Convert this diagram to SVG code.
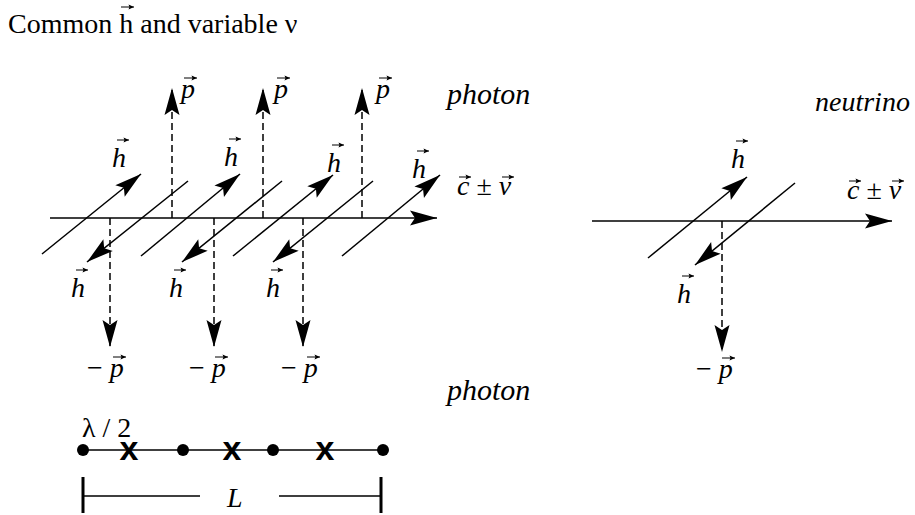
<svg xmlns="http://www.w3.org/2000/svg" width="915" height="515" viewBox="0 0 915 515">
<defs>
<marker id="ah" markerUnits="userSpaceOnUse" markerWidth="40" markerHeight="20" viewBox="-30 -10 40 20" refX="0" refY="0" orient="auto" overflow="visible">
<path d="M0,0 L-27,-7.5 L-22,0 L-27,7.5 Z" fill="#000"/>
</marker>
<marker id="sa" markerUnits="userSpaceOnUse" markerWidth="10" markerHeight="10" viewBox="-8 -5 10 10" refX="0" refY="0" orient="auto" overflow="visible">
<path d="M0,0 L-5.5,-2.4 L-4.5,0 L-5.5,2.4 Z" fill="#000"/>
</marker>
<style>
text{font-family:"Liberation Serif","Times New Roman",serif;fill:#000}
.t{font-size:28px}
.i{font-size:28px;font-style:italic}
.w{font-size:30px;font-style:italic}
.ln{stroke:#000;stroke-width:1.5;fill:none}
.ax{stroke:#000;stroke-width:1.7;fill:none}
.da{stroke:#000;stroke-width:1.5;fill:none;stroke-dasharray:7 4}
.arr{marker-end:url(#ah)}
.vec{stroke:#000;stroke-width:1;fill:none;marker-end:url(#sa)}
.dot{fill:#000}
.xm{font-family:"Liberation Sans",Arial,sans-serif;font-size:34px;font-weight:bold}
</style>
</defs>
<rect width="915" height="515" fill="#fff"/>
<g id="title"><text class="t" x="8" y="33">Common h and variable ν</text></g>

<g id="connectors">
<!-- photon -->
<path class="ax arr" d="M50,218 H437"/>
<path class="ln arr" d="M42,254 L141,174"/>
<path class="ln arr" d="M141,256 L240,174"/>
<path class="ln arr" d="M233,256 L333,175"/>
<path class="ln arr" d="M342,256 L440,175"/>
<path class="ln arr" d="M188,181 L87,262"/>
<path class="ln arr" d="M282,181 L182,262"/>
<path class="ln arr" d="M373,181 L273,262"/>
<path class="da arr" d="M172,218 V88"/>
<path class="da arr" d="M263,218 V88"/>
<path class="da arr" d="M362,218 V88"/>
<path class="da arr" d="M110,218 V347"/>
<path class="da arr" d="M214,218 V347"/>
<path class="da arr" d="M303,218 V347"/>
<!-- neutrino -->
<path class="ax arr" d="M592,221 H892"/>
<path class="ln arr" d="M648,258 L747,177"/>
<path class="ln arr" d="M795,183 L695,265"/>
<path class="da arr" d="M722,221 V352"/>
</g>

<g id="photon-labels">
<text class="w" x="447" y="104">photon</text>
<text class="i" x="181" y="98">p</text>
<text class="i" x="274" y="98">p</text>
<text class="i" x="376" y="98">p</text>
<text class="i" x="112" y="167">h</text>
<text class="i" x="224" y="166">h</text>
<text class="i" x="327" y="172">h</text>
<text class="i" x="412" y="178">h</text>
<text class="i" x="71" y="297">h</text>
<text class="i" x="169" y="297">h</text>
<text class="i" x="266" y="297">h</text>
<text class="t" x="87" y="377">− <tspan font-style="italic">p</tspan></text>
<text class="t" x="189" y="377">− <tspan font-style="italic">p</tspan></text>
<text class="t" x="281" y="377">− <tspan font-style="italic">p</tspan></text>
<text class="t" x="457" y="195"><tspan font-style="italic">c</tspan> ± <tspan font-style="italic">v</tspan></text>
</g>

<g id="neutrino-labels">
<text class="i" x="815" y="111">neutrino</text>
<text class="i" x="731" y="168">h</text>
<text class="i" x="677" y="303">h</text>
<text class="t" x="696" y="378">− <tspan font-style="italic">p</tspan></text>
<text class="t" x="847" y="199"><tspan font-style="italic">c</tspan> ± <tspan font-style="italic">v</tspan></text>
</g>

<g id="vector-accents">
<path class="vec" d="M121,7 H134"/>
<path class="vec" d="M184,78 H197"/>
<path class="vec" d="M277,78 H290"/>
<path class="vec" d="M379,78 H392"/>
<path class="vec" d="M117,140 H129"/>
<path class="vec" d="M229,139 H241"/>
<path class="vec" d="M332,145 H344"/>
<path class="vec" d="M417,151 H429"/>
<path class="vec" d="M76,270 H88"/>
<path class="vec" d="M174,270 H186"/>
<path class="vec" d="M271,270 H283"/>
<path class="vec" d="M113,357 H126"/>
<path class="vec" d="M215,357 H228"/>
<path class="vec" d="M307,357 H320"/>
<path class="vec" d="M459,177 H471"/>
<path class="vec" d="M502,177 H514"/>
<path class="vec" d="M736,141 H748"/>
<path class="vec" d="M682,276 H694"/>
<path class="vec" d="M722,358 H735"/>
<path class="vec" d="M849,181 H861"/>
<path class="vec" d="M892,181 H904"/>
</g>

<g id="scale">
<text class="t" x="82" y="437">λ / 2</text>
<text class="w" x="447" y="400">photon</text>
<path class="ln" d="M83,450 H383"/>
<circle class="dot" cx="83" cy="450" r="6"/>
<circle class="dot" cx="183" cy="450" r="6"/>
<circle class="dot" cx="273" cy="450" r="6"/>
<circle class="dot" cx="383" cy="450" r="6"/>
<text class="xm" x="129" y="460" text-anchor="middle">x</text>
<text class="xm" x="232" y="460" text-anchor="middle">x</text>
<text class="xm" x="325" y="460" text-anchor="middle">x</text>
<path d="M83,477 V513 M381,477 V513" stroke="#000" stroke-width="3" fill="none"/>
<path class="ln" d="M83,496 H200 M279,496 H381"/>
<text class="i" x="227" y="507">L</text>
</g>
</svg>
